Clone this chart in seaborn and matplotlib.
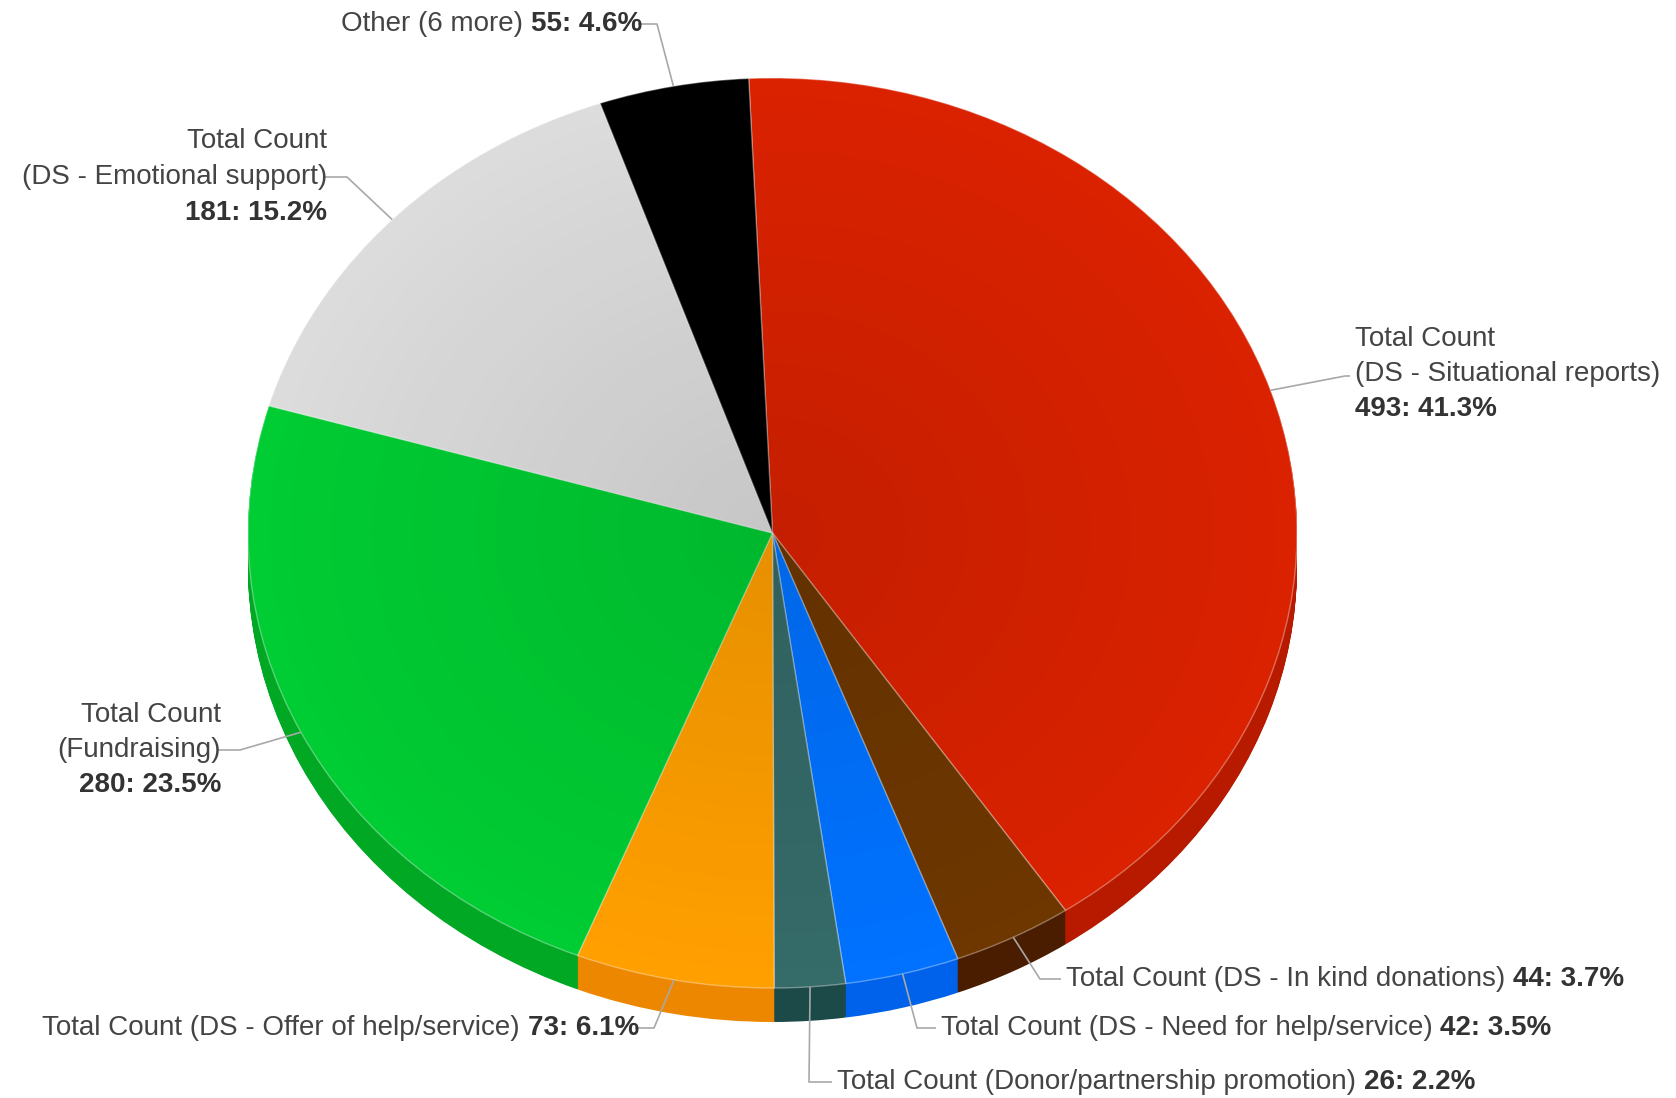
import matplotlib
matplotlib.use("Agg")
import matplotlib.pyplot as plt
from matplotlib.patches import Circle
import numpy as np
import seaborn as sns

# ---- data -------------------------------------------------------------
categories = [
    "Total Count\n(DS - Situational reports)",
    "Total Count (DS - In kind donations)",
    "Total Count (DS - Need for help/service)",
    "Total Count (Donor/partnership promotion)",
    "Total Count (DS - Offer of help/service)",
    "Total Count\n(Fundraising)",
    "Total Count\n(DS - Emotional support)",
    "Other (6 more)",
]
counts = [493, 44, 42, 26, 73, 280, 181, 55]

top_colors = ["#DA2200", "#6E3700", "#0072FF", "#356B69",
              "#FF9F00", "#00CC33", "#DCDCDC", "#000000"]
side_colors = ["#B81A00", "#4B1D00", "#0062EA", "#1C4A48",
               "#EE8700", "#00A823", "#B5B5B5", "#000000"]

# ---- layout (pixels, origin top-left) ---------------------------------
W, H = 1676, 1098
CX, CY = 772.5, 533.0     # pie centre
RX, RY = 524.5, 455.0     # projected radii
DEPTH = 34.0              # thickness of the pie wall
START = 92.6              # start angle of the first wedge

# label anchor, alignment, elbow of the connector
label_pos = [(1355, 374), (1066, 979), (941, 1028), (837, 1082),
             (639, 1028), (221, 750), (327, 177), (642, 24)]
label_ha = ["left", "left", "left", "left", "right", "right", "right", "right"]
elbows = [(1345, 376), (1040, 979), (917, 1028), (809, 1082),
          (654, 1028), (240, 750), (347, 177), (657, 24)]
LINE_GAP = 35.5

FONT = "Liberation Sans"
FS = 20
REG_COLOR = "#444444"
BOLD_COLOR = "#333333"

sns.set_theme(style="white")
plt.rcParams["font.family"] = [FONT, "DejaVu Sans"]


def px(x, y):
    """pixel position -> data coordinates"""
    return (x - CX) / RX, (CY - y) / RY


fig = plt.figure(figsize=(W / 100, H / 100), dpi=100)
ax = fig.add_axes([0, 0, 1, 1])

# wall of the pie: stacked copies shifted downwards
depth_u = DEPTH / RY
n_layers = 40
for k in range(n_layers):
    off = -depth_u * (1 - k / n_layers)
    ax.pie(counts, colors=side_colors, startangle=START, counterclock=False,
           radius=1, center=(0, off), frame=True,
           wedgeprops=dict(linewidth=0))

# top face
wedges, _ = ax.pie(counts, colors=top_colors, startangle=START,
                   counterclock=False, radius=1, center=(0, 0), frame=True,
                   wedgeprops=dict(linewidth=1.0, edgecolor=(1, 1, 1, 0.35)))

# soft radial shading of the top face, darker towards the centre
g = np.linspace(-1, 1, 400)
gx, gy = np.meshgrid(g, g)
r = np.clip(np.hypot(gx, gy), 0, 1)
shade = np.zeros((400, 400, 4))
shade[..., 3] = 0.10 * (1 - r)
im = ax.imshow(shade, extent=(-1, 1, -1, 1), origin="lower",
               interpolation="bilinear", zorder=3, aspect="auto")
clip = Circle((0, 0), 1, transform=ax.transData)
im.set_clip_path(clip)

total = sum(counts)
for i, (w, cat, c) in enumerate(zip(wedges, categories, counts)):
    mid = np.deg2rad((w.theta1 + w.theta2) / 2)
    sx, sy = np.cos(mid), np.sin(mid)
    ex, ey = px(*elbows[i])
    lx, ly = label_pos[i]
    ha = label_ha[i]
    tx = lx + (-4 if ha == "right" else -5)
    ax.plot([sx, ex, px(tx, ly)[0]], [sy, ey, ey], color="#a8a8a8",
            lw=1.2, zorder=5, solid_capstyle="butt")
    value_txt = f"{c}: {100 * c / total:.1f}%"
    if "\n" in cat:
        lines = cat.split("\n")
        for j, ln in enumerate(lines):
            yy = ly + (j - 1) * LINE_GAP
            ax.text(*px(lx, yy), ln, ha=ha, va="center", fontsize=FS,
                    color=REG_COLOR, zorder=6)
        ax.text(*px(lx, ly + LINE_GAP), value_txt, ha=ha, va="center",
                fontsize=FS, color=BOLD_COLOR, fontweight="bold", zorder=6)
    else:
        if ha == "left":
            t1 = ax.text(*px(lx, ly), cat + " ", ha="left", va="center",
                         fontsize=FS, color=REG_COLOR, zorder=6)
            ax.annotate(value_txt, xy=(1, 0), xycoords=t1, ha="left",
                        va="bottom", fontsize=FS, color=BOLD_COLOR,
                        fontweight="bold", zorder=6)
        else:
            t1 = ax.text(*px(lx, ly), value_txt, ha="right", va="center",
                         fontsize=FS, color=BOLD_COLOR, fontweight="bold",
                         zorder=6)
            ax.annotate(cat + " ", xy=(0, 0), xycoords=t1, ha="right",
                        va="bottom", fontsize=FS, color=REG_COLOR, zorder=6)

ax.set_aspect("auto")
ax.set_xlim(-CX / RX, (W - CX) / RX)
ax.set_ylim(-(H - CY) / RY, CY / RY)
ax.axis("off")

fig.savefig("out.png", dpi=100, facecolor="white")
